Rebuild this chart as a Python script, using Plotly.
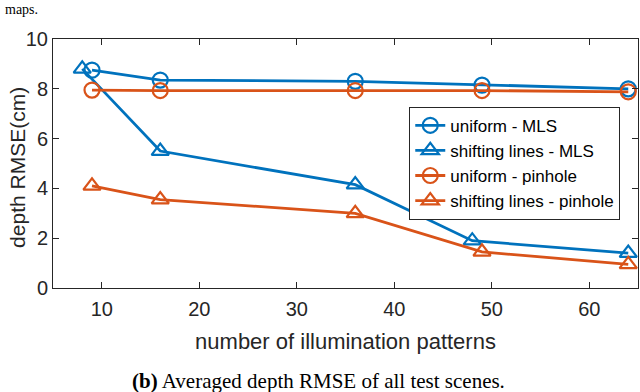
"""Averaged depth RMSE vs number of illumination patterns."""

import plotly.graph_objects as go

# number of illumination patterns for each series
x_uniform_mls = [9, 16, 36, 49, 64]
x_shift_mls = [8, 16, 36, 48, 64]
x_uniform_pin = [9, 16, 36, 49, 64]
x_shift_pin = [9, 16, 36, 49, 64]

# depth RMSE (cm)
y_uniform_mls = [8.75, 8.35, 8.3, 8.15, 8.0]
y_shift_mls = [8.8, 5.5, 4.15, 1.9, 1.4]
y_uniform_pin = [7.95, 7.93, 7.93, 7.93, 7.88]
y_shift_pin = [4.1, 3.55, 3.0, 1.45, 0.95]

x_ticks = [10, 20, 30, 40, 50, 60]
y_ticks = [0, 2, 4, 6, 8, 10]

BLUE = "#0072BD"
ORANGE = "#D95319"
AXIS = "#262626"
SANS = "Liberation Sans, Arial"
SERIF = "Liberation Serif, Times New Roman"

series = [
    ("uniform - MLS", x_uniform_mls, y_uniform_mls, BLUE, "circle-open"),
    ("shifting lines - MLS", x_shift_mls, y_shift_mls, BLUE, "triangle-up-open"),
    ("uniform - pinhole", x_uniform_pin, y_uniform_pin, ORANGE, "circle-open"),
    ("shifting lines - pinhole", x_shift_pin, y_shift_pin, ORANGE, "triangle-up-open"),
]

fig = go.Figure()
for name, xs, ys, color, symbol in series:
    fig.add_trace(go.Scatter(
        x=xs, y=ys, name=name, mode="lines+markers", cliponaxis=False,
        line=dict(color=color, width=2.8),
        marker=dict(symbol=symbol, size=15, color=color,
                    line=dict(color=color, width=2.2)),
    ))

axis_common = dict(
    showline=True, mirror="ticks", linecolor=AXIS, linewidth=1,
    ticks="inside", ticklen=6, tickcolor=AXIS, showgrid=False, zeroline=False,
    automargin=False,
    tickfont=dict(family=SANS, size=20, color=AXIS),
)

fig.update_xaxes(range=[5, 65], tickvals=x_ticks, ticklabelstandoff=3, **axis_common,
                 title=dict(text="number of illumination patterns", standoff=14,
                            font=dict(family=SANS, size=22, color=AXIS)))
fig.update_yaxes(range=[0, 10], tickvals=y_ticks, **axis_common)

fig.update_layout(
    width=640, height=392,
    margin=dict(l=53, r=2, t=39, b=104),
    plot_bgcolor="white", paper_bgcolor="white",
    showlegend=True,
    legend=dict(
        x=0.609, y=0.728, xanchor="left", yanchor="top",
        bgcolor="white", bordercolor=AXIS, borderwidth=1,
        font=dict(family=SANS, size=17, color="black"),
        itemwidth=30, tracegroupgap=0,
    ),
    annotations=[
        dict(text="depth RMSE(cm)", textangle=-90,
             xref="paper", yref="paper", x=-0.06, y=0.486,
             xanchor="center", yanchor="middle", showarrow=False,
             font=dict(family=SANS, size=21, color=AXIS)),
        dict(text="<b>(b)</b> Averaged depth RMSE of all test scenes.",
             xref="paper", yref="paper", x=0.453, y=-0.373,
             xanchor="center", yanchor="middle", showarrow=False,
             font=dict(family=SERIF, size=21, color="black")),
        dict(text="maps.", xref="paper", yref="paper", x=-0.085, y=1.156,
             xanchor="left", yanchor="top", showarrow=False,
             font=dict(family=SERIF, size=14, color="black")),
    ],
)

# drop the page's default 8px body margin so the figure sits at the corner
fig.write_html("out.html", config={"displayModeBar": False},
               post_script="document.body.style.margin='0';")
